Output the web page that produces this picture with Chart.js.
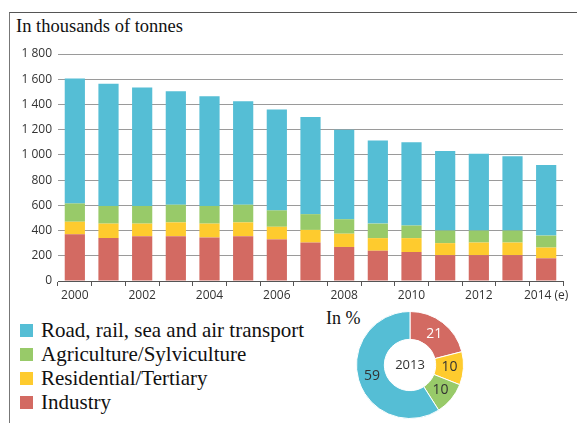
<!DOCTYPE html>
<html>
<head>
<meta charset="utf-8">
<script src="https://cdn.jsdelivr.net/npm/chart.js@4.4.1/dist/chart.umd.min.js"></script>
<style>
    html, body { margin: 0; padding: 0; background: #fff; }
    body { width: 577px; height: 423px; position: relative; overflow: hidden; }
    .frame { position: absolute; left: 9px; top: 12px; right: 0; bottom: 0; border-top: 1px solid #555; border-left: 1px solid #777; }
    .title { position: absolute; left: 16px; top: 16px; font: 18.5px "Liberation Serif", serif; color: #111; }
    #barChart { position: absolute; left: 0; top: 0; }
    #pieChart { position: absolute; left: 350px; top: 305px; }
    .legend { position: absolute; left: 20px; top: 318px; font: 21px "Liberation Serif", serif; color: #111; }
    .legend div { height: 24px; line-height: 24px; display: flex; align-items: center; }
    .legend span { display: inline-block; width: 13px; height: 13px; margin-right: 8px; }
    .pct { position: absolute; left: 326px; top: 308px; font: 18px "Liberation Serif", serif; color: #111; }
</style>
</head>
<body>
<div class="frame"></div>
<div class="title">In thousands of tonnes</div>
<canvas id="barChart" width="577" height="305"></canvas>
<div class="legend" id="legend"></div>
<div class="pct">In %</div>
<canvas id="pieChart" width="120" height="120"></canvas>
<script>
// Data
const years = ['2000', '2001', '2002', '2003', '2004', '2005', '2006', '2007',
               '2008', '2009', '2010', '2011', '2012', '2013', '2014 (e)'];
const industry    = [370, 340, 355, 355, 345, 355, 330, 305, 270, 240, 230, 205, 205, 205, 180];
const residential = [100, 115, 100, 110, 110, 110, 100, 100, 105, 100, 110,  95, 100, 100,  85];
const agriculture = [145, 140, 140, 140, 140, 140, 130, 125, 115, 115, 100, 100,  95,  95,  95];
const transport   = [990, 970, 940, 900, 870, 820, 800, 770, 710, 660, 660, 630, 610, 590, 560];
const yMax = 1800;
const yStep = 200;

const shareYear = '2013';
const shareLabels = ['Industry', 'Residential/Tertiary', 'Agriculture/Sylviculture', 'Road, rail, sea and air transport'];
const shareValues = [21, 10, 10, 59];

const legendLabels = ['Road, rail, sea and air transport', 'Agriculture/Sylviculture', 'Residential/Tertiary', 'Industry'];

// Colours
const RED = '#d36a62';
const YELLOW = '#fecb2e';
const GREEN = '#98ca69';
const CYAN = '#55bed5';

const sansFont = '"Open Sans", sans-serif';

// Legend
const legendColors = [CYAN, GREEN, YELLOW, RED];
const legendEl = document.getElementById('legend');
legendLabels.forEach((label, i) => {
    const row = document.createElement('div');
    row.innerHTML = '<span style="background:' + legendColors[i] + '"></span>' + label;
    legendEl.appendChild(row);
});

// Stacked bar chart
new Chart(document.getElementById('barChart'), {
    type: 'bar',
    data: {
        labels: years,
        datasets: [
            { label: 'Industry', data: industry, backgroundColor: RED },
            { label: 'Residential/Tertiary', data: residential, backgroundColor: YELLOW },
            { label: 'Agriculture/Sylviculture', data: agriculture, backgroundColor: GREEN },
            { label: 'Road, rail, sea and air transport', data: transport, backgroundColor: CYAN }
        ]
    },
    options: {
        responsive: false,
        animation: false,
        layout: { padding: { top: 54, right: 14, left: 0, bottom: 0 } },
        datasets: { bar: { barPercentage: 0.6, categoryPercentage: 1 } },
        plugins: { legend: { display: false }, tooltip: { enabled: false } },
        scales: {
            x: {
                stacked: true,
                afterFit: function(scale) { scale.height = 24; },
                grid: { offset: true, drawOnChartArea: false, drawTicks: true, tickLength: 5, color: '#555' },
                border: { color: '#555', width: 1 },
                ticks: {
                    autoSkip: false,
                    maxRotation: 0,
                    padding: 2,
                    color: '#333',
                    font: { family: sansFont, size: 12 },
                    callback: function(value, index) {
                        return index % 2 === 0 ? this.getLabelForValue(value) : '';
                    }
                }
            },
            y: {
                stacked: true,
                min: 0,
                max: yMax,
                afterFit: function(scale) { scale.width = 58; },
                grid: { drawTicks: false, color: '#9a9a9a' },
                border: { display: false },
                ticks: {
                    stepSize: yStep,
                    padding: 6,
                    color: '#333',
                    font: { family: sansFont, size: 12 },
                    callback: function(value) {
                        return String(value).replace(/\B(?=(\d{3})+(?!\d))/g, ' ');
                    }
                }
            }
        }
    }
});

// Labels inside the doughnut slices and the year in the hole
const sliceLabels = {
    id: 'sliceLabels',
    afterDatasetsDraw(chart) {
        const ctx = chart.ctx;
        const meta = chart.getDatasetMeta(0);
        ctx.save();
        ctx.textAlign = 'center';
        ctx.textBaseline = 'middle';
        ctx.font = '14px ' + sansFont;
        meta.data.forEach((arc, i) => {
            const pos = arc.tooltipPosition();
            ctx.fillStyle = i === 0 ? '#fff' : '#333';
            ctx.fillText(String(shareValues[i]), pos.x, pos.y);
        });
        ctx.fillStyle = '#333';
        ctx.font = '13px ' + sansFont;
        const c = meta.data[0];
        ctx.fillText(shareYear, c.x, c.y);
        ctx.restore();
    }
};

new Chart(document.getElementById('pieChart'), {
    type: 'doughnut',
    data: {
        labels: shareLabels,
        datasets: [{
            data: shareValues,
            backgroundColor: [RED, YELLOW, GREEN, CYAN],
            borderColor: '#fff',
            borderWidth: 1
        }]
    },
    options: {
        responsive: false,
        animation: false,
        cutout: '48%',
        layout: { padding: 6 },
        plugins: { legend: { display: false }, tooltip: { enabled: false } }
    },
    plugins: [sliceLabels]
});
</script>
</body>
</html>
